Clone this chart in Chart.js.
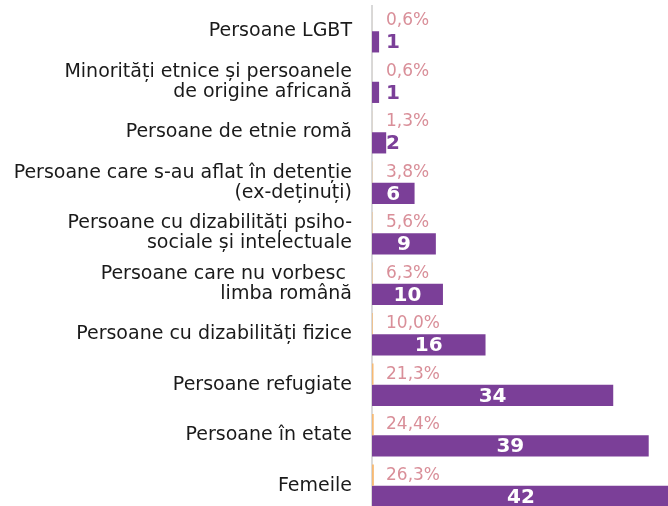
<!DOCTYPE html>
<html>
<head>
<meta charset="utf-8">
<script src="https://cdn.jsdelivr.net/npm/chart.js@4"></script>
<style>
  html, body { margin: 0; padding: 0; background: #ffffff; overflow: hidden; }
  .wrap { width: 670px; height: 512px; position: relative; }
</style>
</head>
<body>
<div class="wrap"><canvas id="grupuri"></canvas></div>
<script>
// categorii (de sus in jos)
const categories = [
    'Persoane LGBT',
    ['Minorități etnice și persoanele', 'de origine africană'],
    'Persoane de etnie romă',
    ['Persoane care s-au aflat în detenție', '(ex-deținuți)'],
    ['Persoane cu dizabilități psiho-', 'sociale și intelectuale'],
    ['Persoane care nu vorbesc ', 'limba română'],
    'Persoane cu dizabilități fizice',
    'Persoane refugiate',
    'Persoane în etate',
    'Femeile'
];
const counts = [1, 1, 2, 6, 9, 10, 16, 34, 39, 42];
const shares = [0.006, 0.006, 0.013, 0.038, 0.056, 0.063, 0.100, 0.213, 0.244, 0.263];

const purple = '#7b3f98';
const pink = '#d98f99';

// etichete pe bare: procente deasupra, numar in bara
const barLabels = {
    id: 'barLabels',
    afterDatasetsDraw(chart) {
        const ctx = chart.ctx;
        const left = chart.chartArea.left;
        ctx.save();
        ctx.textBaseline = 'middle';

        // procente
        ctx.font = '17px "DejaVu Sans"';
        ctx.fillStyle = pink;
        ctx.textAlign = 'left';
        chart.getDatasetMeta(0).data.forEach((bar, i) => {
            const txt = (shares[i] * 100).toFixed(1).replace('.', ',') + '%';
            ctx.fillText(txt, left + 14, bar.y);
        });

        // valori
        ctx.font = 'bold 20px "DejaVu Sans"';
        ctx.textAlign = 'center';
        chart.getDatasetMeta(1).data.forEach((bar, i) => {
            const mid = (left + bar.x) / 2;
            const inside = mid >= left + 20;
            ctx.fillStyle = inside ? '#ffffff' : purple;
            ctx.fillText(String(counts[i]), Math.max(mid, left + 21), bar.y + 1);
        });
        ctx.restore();
    }
};

new Chart(document.getElementById('grupuri'), {
    type: 'bar',
    data: {
        labels: categories,
        datasets: [{
            label: 'Procent',
            data: shares,
            backgroundColor: '#f6b973',
            barPercentage: 1,
            categoryPercentage: 0.84
        }, {
            label: 'Număr',
            data: counts,
            backgroundColor: purple,
            barPercentage: 1,
            categoryPercentage: 0.84
        }]
    },
    options: {
        indexAxis: 'y',
        maintainAspectRatio: false,
        responsive: true,
        animation: false,
        layout: { padding: { top: 6, bottom: 1, left: 0, right: 0 } },
        plugins: {
            legend: { display: false },
            tooltip: { enabled: false }
        },
        scales: {
            x: {
                display: false,
                min: 0,
                max: 42
            },
            y: {
                grid: { display: false, drawTicks: false },
                border: { display: true, color: '#d9d9d9', width: 2 },
                ticks: {
                    color: '#1a1a1a',
                    padding: 20,
                    font: { family: '"DejaVu Sans"', size: 19, lineHeight: 1.06 }
                },
                afterFit(scale) {
                    scale.width = 372;
                    scale.paddingTop = 0;
                    scale.paddingBottom = 0;
                }
            }
        }
    },
    plugins: [barLabels]
});
</script>
</body>
</html>
